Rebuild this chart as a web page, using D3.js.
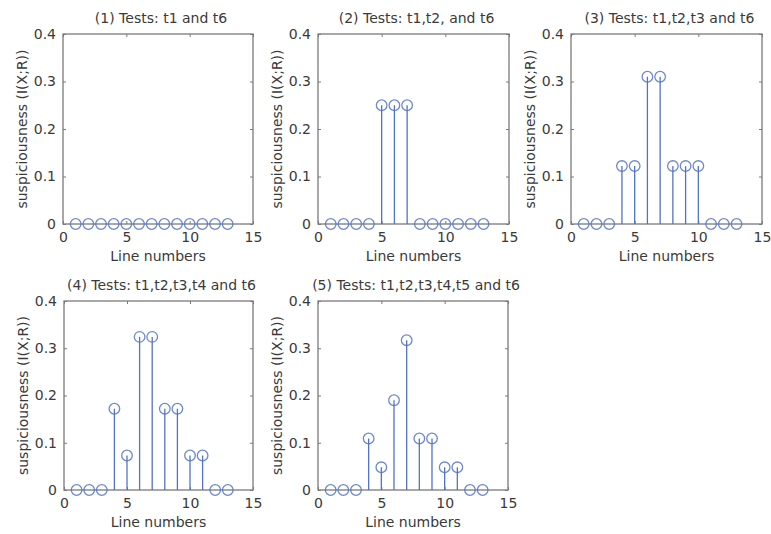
<!DOCTYPE html>
<html>
<head>
<meta charset="utf-8">
<script src="https://d3js.org/d3.v7.min.js"></script>
<style>
  html, body { margin: 0; padding: 0; background: #fff; }
  svg { display: block; }
  text { font-family: "DejaVu Sans", Verdana, sans-serif; fill: #3a3a3a; }
</style>
</head>
<body>
<svg id="chart" width="771" height="534"></svg>
<script>
// ---- data ----
const lineNumbers = [1, 2, 3, 4, 5, 6, 7, 8, 9, 10, 11, 12, 13];
const titles = [
  "(1) Tests: t1 and t6",
  "(2) Tests: t1,t2, and t6",
  "(3) Tests: t1,t2,t3 and t6",
  "(4) Tests: t1,t2,t3,t4 and t6",
  "(5) Tests: t1,t2,t3,t4,t5 and t6"
];
const values1 = [0, 0, 0, 0, 0, 0, 0, 0, 0, 0, 0, 0, 0];
const values2 = [0, 0, 0, 0, 0.25, 0.25, 0.25, 0, 0, 0, 0, 0, 0];
const values3 = [0, 0, 0, 0.122, 0.122, 0.31, 0.31, 0.122, 0.122, 0.122, 0, 0, 0];
const values4 = [0, 0, 0, 0.172, 0.073, 0.324, 0.324, 0.172, 0.172, 0.073, 0.073, 0, 0];
const values5 = [0, 0, 0, 0.109, 0.048, 0.19, 0.317, 0.109, 0.109, 0.048, 0.048, 0, 0];
const xTicks = [0, 5, 10, 15];
const yTicks = [0, 0.1, 0.2, 0.3, 0.4];
const xLabel = "Line numbers";
const yLabel = "suspiciousness (I(X;R))";

const series = [values1, values2, values3, values4, values5];

// ---- layout ----
const panels = [
  { x: 63, y: 34, w: 190, h: 190 },
  { x: 318, y: 34, w: 191, h: 190 },
  { x: 571, y: 34, w: 191, h: 190 },
  { x: 64, y: 301, w: 189, h: 189 },
  { x: 318, y: 301, w: 190, h: 189 }
];

const svg = d3.select("#chart");
const axisColor = "#7a7a7a";
const blue = "#5273c6";

panels.forEach((p, i) => {
  const g = svg.append("g").attr("transform", `translate(${p.x},${p.y})`);
  const x = d3.scaleLinear().domain([0, 15]).range([0, p.w]);
  const y = d3.scaleLinear().domain([0, 0.4]).range([p.h, 0]);

  // box
  g.append("rect").attr("x", 0).attr("y", 0).attr("width", p.w).attr("height", p.h)
    .attr("fill", "none").attr("stroke", axisColor).attr("stroke-width", 1.3);

  // axes (ticks inside)
  const xb = d3.axisBottom(x).tickValues(xTicks).tickFormat(d3.format("d")).tickSizeInner(-3).tickSizeOuter(0).tickPadding(8);
  const xt = d3.axisTop(x).tickValues(xTicks).tickFormat("").tickSizeInner(-3).tickSizeOuter(0);
  const yl = d3.axisLeft(y).tickValues(yTicks).tickFormat(d => d === 0 ? "0" : d3.format(".1f")(d)).tickSizeInner(-3).tickSizeOuter(0).tickPadding(7);
  const yr = d3.axisRight(y).tickValues(yTicks).tickFormat("").tickSizeInner(-3).tickSizeOuter(0);

  const styleAxis = sel => {
    sel.select(".domain").remove();
    sel.selectAll("line").attr("stroke", axisColor);
    sel.selectAll("text").attr("font-size", 14).attr("fill", "#3a3a3a")
      .attr("font-family", "DejaVu Sans, Verdana, sans-serif");
  };
  g.append("g").attr("transform", `translate(0,${p.h})`).call(xb).call(styleAxis);
  g.append("g").call(xt).call(styleAxis);
  g.append("g").call(yl).call(styleAxis);
  g.append("g").attr("transform", `translate(${p.w},0)`).call(yr).call(styleAxis);

  // stems
  const data = lineNumbers.map((n, k) => ({ n, v: series[i][k] }));
  g.selectAll(".stem").data(data.filter(d => d.v > 0)).join("line")
    .attr("x1", d => x(d.n)).attr("x2", d => x(d.n))
    .attr("y1", y(0)).attr("y2", d => y(d.v))
    .attr("stroke", blue).attr("stroke-width", 1.3);
  g.selectAll(".mark").data(data).join("circle")
    .attr("cx", d => x(d.n)).attr("cy", d => y(d.v)).attr("r", 5.3)
    .attr("fill", "none").attr("stroke", blue).attr("stroke-width", 1.3).attr("stroke-opacity", 0.85);

  // title
  g.append("text").attr("x", p.w / 2 + 3).attr("y", -11).attr("text-anchor", "middle")
    .attr("font-size", 14).text(titles[i]);
  // x label
  g.append("text").attr("x", p.w / 2).attr("y", p.h + 37).attr("text-anchor", "middle")
    .attr("font-size", 14).text(xLabel);
  // y label
  g.append("text").attr("transform", `translate(-36,${p.h / 2}) rotate(-90)`)
    .attr("text-anchor", "middle").attr("font-size", 14).text(yLabel);
});
</script>
</body>
</html>
